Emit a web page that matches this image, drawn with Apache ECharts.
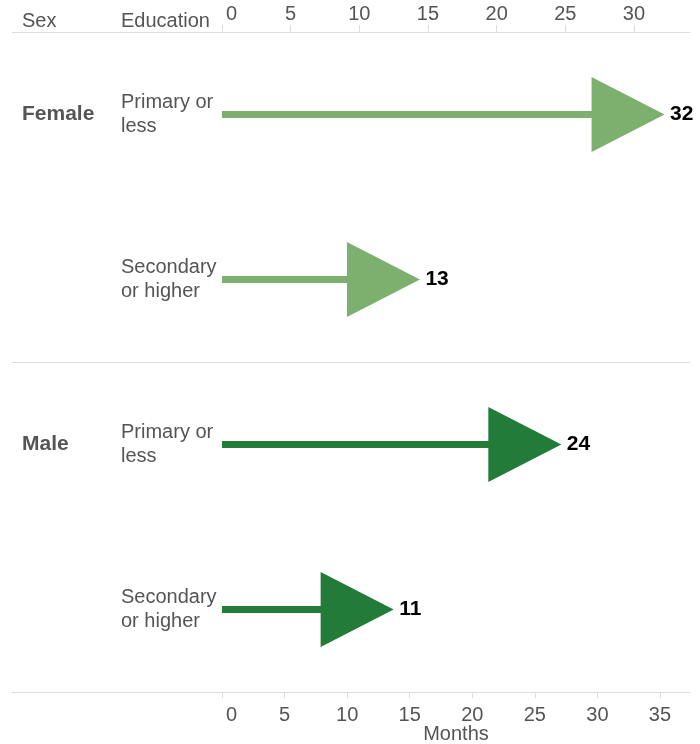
<!DOCTYPE html>
<html>
<head>
<meta charset="utf-8">
<script src="https://cdn.jsdelivr.net/npm/echarts@6/dist/echarts.min.js"></script>
<style>
  html, body { margin: 0; background: #fff; }
  #chart { width: 700px; height: 744px; }
</style>
</head>
<body>
<div id="chart"></div>
<script>
// rows, top to bottom
const rowKeys = ['f-pri', 'f-sec', 'm-pri', 'm-sec']
const sexLabels = ['Female', '', 'Male', '']
const eduLabels = ['Primary or\nless', 'Secondary\nor higher', 'Primary or\nless', 'Secondary\nor higher']
const months = [32.45, 12.9, 24.2, 10.8]
const rowColors = ['#7db06f', '#7db06f', '#237b39', '#237b39']
const topTicks = [0, 5, 10, 15, 20, 25, 30]
const bottomTicks = [0, 5, 10, 15, 20, 25, 30, 35]

const gridLeft = 222
const gridTop = 32
const gridRight = 10
const gridHeight = 660
const rowH = gridHeight / rowKeys.length
const ruleColor = '#dddddd'
const textColor = '#555555'
const font = 'Liberation Sans, Arial, sans-serif'

let chart = echarts.init(document.getElementById('chart'))

// full-width rules: header, between the two sexes, bottom
let rules = [gridTop, gridTop + rowH * 2, gridTop + gridHeight].map(y => ({
  type: 'line',
  silent: true,
  shape: { x1: 12, y1: Math.round(y) + 0.5, x2: 700 - gridRight, y2: Math.round(y) + 0.5 },
  style: { stroke: ruleColor, lineWidth: 1 }
}))

// first tick label sits just right of its tick
function tickLabel (v) {
  return v === 0 ? '{first|0}' : String(v)
}
const tickRich = { first: { padding: [0, 0, 0, 4], fontSize: 20, color: textColor } }

let option = {
  animation: false,
  textStyle: { fontFamily: font },
  grid: {
    left: gridLeft,
    right: gridRight,
    top: gridTop,
    height: gridHeight,
    containLabel: false,
    outerBoundsMode: 'none'
  },
  graphic: rules.concat([
    { type: 'text', left: 22, top: 11, style: { text: 'Sex', fill: textColor, font: '20px ' + font } },
    { type: 'text', left: 121, top: 11, style: { text: 'Education', fill: textColor, font: '20px ' + font } }
  ]),
  xAxis: [
    {
      type: 'value',
      position: 'top',
      min: 0,
      max: 34.08,
      axisLine: { show: true, lineStyle: { color: ruleColor } },
      axisTick: { show: true, length: 7, lineStyle: { color: ruleColor }, customValues: topTicks },
      axisLabel: {
        color: textColor,
        fontSize: 20,
        margin: 8,
        customValues: topTicks,
        alignMinLabel: 'left',
        formatter: tickLabel,
        rich: tickRich
      },
      splitLine: { show: false }
    },
    {
      type: 'value',
      position: 'bottom',
      min: 0,
      max: 37.4,
      name: 'Months',
      nameLocation: 'middle',
      nameGap: 32,
      nameMoveOverlap: false,
      nameTextStyle: { color: textColor, fontSize: 20 },
      axisLine: { show: true, lineStyle: { color: ruleColor } },
      axisTick: { show: true, length: 6, lineStyle: { color: ruleColor }, customValues: bottomTicks },
      axisLabel: {
        color: textColor,
        fontSize: 20,
        margin: 13,
        customValues: bottomTicks,
        alignMinLabel: 'left',
        formatter: tickLabel,
        rich: tickRich
      },
      splitLine: { show: false }
    }
  ],
  yAxis: [
    {
      type: 'category',
      inverse: true,
      data: rowKeys,
      axisLine: { show: false },
      axisTick: { show: false },
      axisLabel: {
        formatter: (v, i) => eduLabels[i],
        align: 'left',
        margin: gridLeft - 121,
        color: textColor,
        fontSize: 20,
        lineHeight: 24
      }
    },
    {
      type: 'category',
      position: 'left',
      inverse: true,
      data: rowKeys,
      axisLine: { show: false },
      axisTick: { show: false },
      axisLabel: {
        formatter: (v, i) => sexLabels[i],
        align: 'left',
        margin: gridLeft - 22,
        color: textColor,
        fontSize: 21,
        fontWeight: 'bold'
      }
    }
  ],
  series: [
    {
      name: 'stem',
      type: 'bar',
      xAxisIndex: 1,
      yAxisIndex: 0,
      barWidth: 7,
      silent: true,
      z: 2,
      data: months.map((v, i) => ({ value: v, itemStyle: { color: rowColors[i] } })),
      label: {
        show: true,
        position: 'right',
        distance: 42,
        formatter: p => Math.round(p.value),
        color: '#000',
        fontSize: 21,
        fontWeight: 'bold'
      }
    },
    {
      name: 'head',
      type: 'scatter',
      xAxisIndex: 1,
      yAxisIndex: 0,
      symbol: 'triangle',
      symbolRotate: -90,
      symbolSize: [75, 73],
      silent: true,
      z: 3,
      itemStyle: { opacity: 1 },
      data: months.map((v, i) => ({ value: [v, rowKeys[i]], itemStyle: { color: rowColors[i], opacity: 1 } }))
    }
  ]
}
chart.setOption(option)
</script>
</body>
</html>
